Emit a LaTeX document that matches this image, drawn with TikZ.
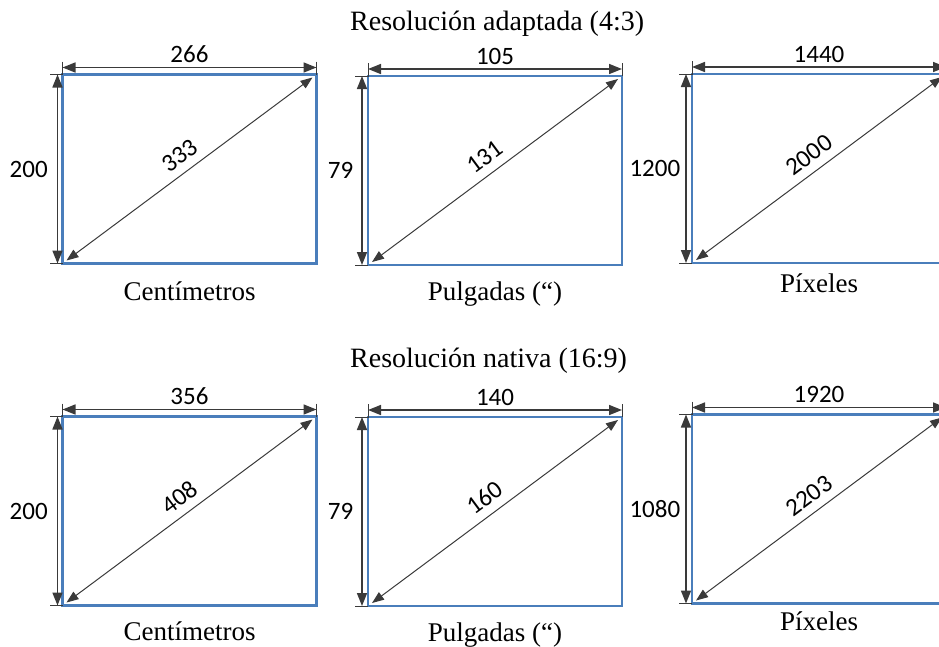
\documentclass[tikz,border=0pt]{standalone}
\usepackage{fontspec}
\setmainfont{Liberation Serif}
\newfontfamily\dimfont{Carlito}
\usetikzlibrary{arrows.meta,positioning,calc}
\definecolor{screenblue}{HTML}{4A7EBB}
\definecolor{dimgray}{HTML}{3A3A3A}

\begin{document}
\begin{tikzpicture}[
    x=1pt, y=-1pt,
    screen/.style={
        rectangle,
        draw=screenblue,
        line width=2.2pt,
        inner sep=0pt,
        outer sep=0pt,
        minimum width=254pt,
        minimum height=189pt
    },
    extline/.style={draw=dimgray, line width=0.8pt},
    dimline/.style={draw=dimgray, line width=1.6pt,
        {Triangle[length=13pt,width=10pt]}-{Triangle[length=13pt,width=10pt]}},
    diagline/.style={draw=dimgray, line width=1pt, shorten <=5pt, shorten >=5pt,
        {Triangle[length=12pt,width=9pt]}-{Triangle[length=12pt,width=9pt]}},
    dimlabel/.style={font=\dimfont\fontsize{25}{27}\selectfont, inner sep=1pt},
    caption/.style={font=\fontsize{27}{30}\selectfont, anchor=base, inner sep=0pt},
    title/.style={font=\fontsize{28}{32}\selectfont, anchor=base west, inner sep=0pt}
]
\useasboundingbox (0,0) rectangle (939,646);
\clip (0,0) rectangle (939,646);

% ---------------------------------------------------------------- Titles
\node[title] (adaptTitle)  at (350,30)  {Resolución adaptada (4:3)};
\node[title] (nativeTitle) at (350,367) {Resolución nativa (16:9)};

% ---------------------------------------------------------------- Screens
\node[screen] (cmAdapt)  at (189.5,169)   {};
\node[screen] (inAdapt)  at (495,170.5)   {};
\node[screen] (pxAdapt)  at (819,168.5)   {};
\node[screen] (cmNative) at (189.5,511)   {};
\node[screen] (inNative) at (495,511.5)   {};
\node[screen] (pxNative) at (819,509)     {};

% ---------------------------------------------------------------- Captions
\node[caption] (cmAdaptCap)  at ([yshift=-37pt]cmAdapt.south)  {Centímetros};
\node[caption] (inAdaptCap)  at ([yshift=-35pt]inAdapt.south)  {Pulgadas (“)};
\node[caption] (pxAdaptCap)  at ([yshift=-29pt]pxAdapt.south)  {Píxeles};
\node[caption] (cmNativeCap) at ([yshift=-35pt]cmNative.south) {Centímetros};
\node[caption] (inNativeCap) at ([yshift=-35pt]inNative.south) {Pulgadas (“)};
\node[caption] (pxNativeCap) at ([yshift=-27pt]pxNative.south) {Píxeles};

% ---------------------------------------------------------------- Dimensions (4:3)
% centimetres
\draw[extline] ([yshift=13pt]cmAdapt.north west) -- (cmAdapt.north west) -- ([xshift=-13pt]cmAdapt.north west);
\draw[extline] ([yshift=13pt]cmAdapt.north east) -- (cmAdapt.north east);
\draw[extline] (cmAdapt.south west) -- ([xshift=-13pt]cmAdapt.south west);
\draw[dimline] ([yshift=7pt]cmAdapt.north west) -- node[dimlabel, above=3pt] {266} ([yshift=7pt]cmAdapt.north east);
\draw[dimline] ([xshift=-5pt]cmAdapt.north west) -- node[dimlabel, left=8pt] {200} ([xshift=-5pt]cmAdapt.south west);
\draw[diagline] (cmAdapt.south west) -- node[dimlabel, sloped, above=7pt] {333} (cmAdapt.north east);
% inches
\draw[extline] ([yshift=13pt]inAdapt.north west) -- (inAdapt.north west) -- ([xshift=-13pt]inAdapt.north west);
\draw[extline] ([yshift=13pt]inAdapt.north east) -- (inAdapt.north east);
\draw[extline] (inAdapt.south west) -- ([xshift=-13pt]inAdapt.south west);
\draw[dimline] ([yshift=7pt]inAdapt.north west) -- node[dimlabel, above=3pt] {105} ([yshift=7pt]inAdapt.north east);
\draw[dimline] ([xshift=-6pt]inAdapt.north west) -- node[dimlabel, left=7pt] {79} ([xshift=-6pt]inAdapt.south west);
\draw[diagline] (inAdapt.south west) -- node[dimlabel, sloped, above=7pt] {131} (inAdapt.north east);
% pixels
\draw[extline] ([yshift=13pt]pxAdapt.north west) -- (pxAdapt.north west) -- ([xshift=-13pt]pxAdapt.north west);
\draw[extline] ([yshift=13pt]pxAdapt.north east) -- (pxAdapt.north east);
\draw[extline] (pxAdapt.south west) -- ([xshift=-13pt]pxAdapt.south west);
\draw[dimline] ([yshift=7pt]pxAdapt.north west) -- node[dimlabel, above=3pt] {1440} ([yshift=7pt]pxAdapt.north east);
\draw[dimline] ([xshift=-6pt]pxAdapt.north west) -- node[dimlabel, left=4pt] {1200} ([xshift=-6pt]pxAdapt.south west);
\draw[diagline] (pxAdapt.south west) -- node[dimlabel, sloped, above=7pt] {2000} (pxAdapt.north east);

% ---------------------------------------------------------------- Dimensions (16:9)
% centimetres
\draw[extline] ([yshift=13pt]cmNative.north west) -- (cmNative.north west) -- ([xshift=-13pt]cmNative.north west);
\draw[extline] ([yshift=13pt]cmNative.north east) -- (cmNative.north east);
\draw[extline] (cmNative.south west) -- ([xshift=-13pt]cmNative.south west);
\draw[dimline] ([yshift=7pt]cmNative.north west) -- node[dimlabel, above=3pt] {356} ([yshift=7pt]cmNative.north east);
\draw[dimline] ([xshift=-5pt]cmNative.north west) -- node[dimlabel, left=8pt] {200} ([xshift=-5pt]cmNative.south west);
\draw[diagline] (cmNative.south west) -- node[dimlabel, sloped, above=7pt] {408} (cmNative.north east);
% inches
\draw[extline] ([yshift=13pt]inNative.north west) -- (inNative.north west) -- ([xshift=-13pt]inNative.north west);
\draw[extline] ([yshift=13pt]inNative.north east) -- (inNative.north east);
\draw[extline] (inNative.south west) -- ([xshift=-13pt]inNative.south west);
\draw[dimline] ([yshift=7pt]inNative.north west) -- node[dimlabel, above=3pt] {140} ([yshift=7pt]inNative.north east);
\draw[dimline] ([xshift=-6pt]inNative.north west) -- node[dimlabel, left=7pt] {79} ([xshift=-6pt]inNative.south west);
\draw[diagline] (inNative.south west) -- node[dimlabel, sloped, above=7pt] {160} (inNative.north east);
% pixels
\draw[extline] ([yshift=13pt]pxNative.north west) -- (pxNative.north west) -- ([xshift=-13pt]pxNative.north west);
\draw[extline] ([yshift=13pt]pxNative.north east) -- (pxNative.north east);
\draw[extline] (pxNative.south west) -- ([xshift=-13pt]pxNative.south west);
\draw[dimline] ([yshift=7pt]pxNative.north west) -- node[dimlabel, above=3pt] {1920} ([yshift=7pt]pxNative.north east);
\draw[dimline] ([xshift=-6pt]pxNative.north west) -- node[dimlabel, left=4pt] {1080} ([xshift=-6pt]pxNative.south west);
\draw[diagline] (pxNative.south west) -- node[dimlabel, sloped, above=7pt] {2203} (pxNative.north east);

\end{tikzpicture}
\end{document}
